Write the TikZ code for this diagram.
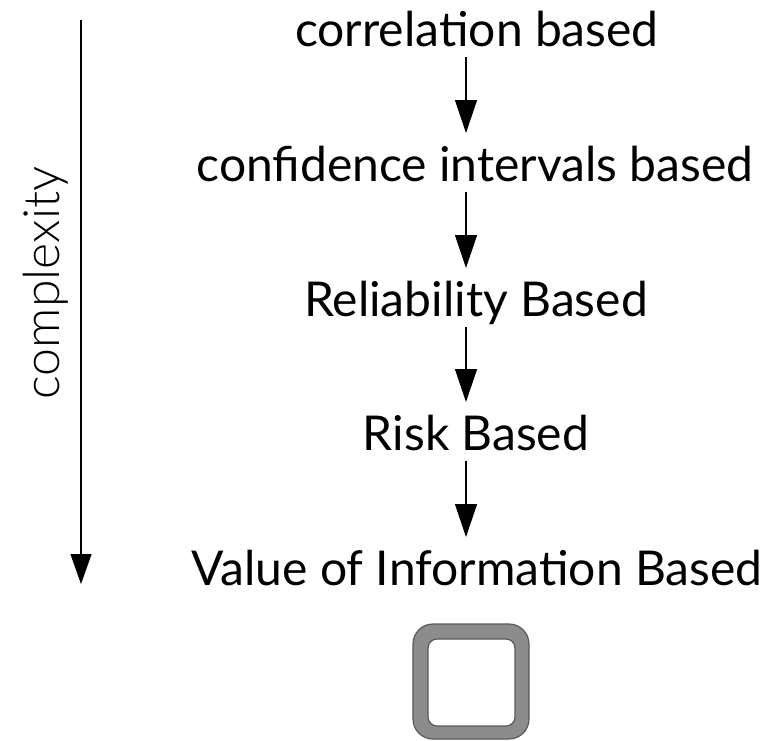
\documentclass[tikz,border=0pt]{standalone}
\usepackage{fontspec}
\setmainfont{Lato}
\newfontfamily\latolight{Lato Light}
\usetikzlibrary{arrows.meta,calc}
\tikzset{
  lbl/.style={inner sep=0pt, anchor=base, font=\fontsize{48}{54}\selectfont},
  arr/.style={line width=1.3pt, -{Triangle[length=33pt,width=22pt]}},
}
\begin{document}
\begin{tikzpicture}[x=1pt,y=-1pt]
\useasboundingbox (0,0) rectangle (768,740);
\node[lbl] (n1) at (477,46) {correlation based};
\node[lbl] (n2) at (475,181) {confidence intervals based};
\node[lbl] (n3) at (476,316) {Reliability Based};
\node[lbl] (n4) at (476,450) {Risk Based};
\node[lbl] (n5) at (477,585) {Value of Information Based};
\foreach \a/\b in {n1/n2,n2/n3,n3/n4,n4/n5}{
  \draw[arr] ($(\a.base -| 466,0)+(0,11)$) -- ($(\b.base -| 466,0)+(0,-48)$);
}
\coordinate (ctop) at (81,20);
\coordinate (cbot) at (81,584);
\draw[line width=1.1pt, -{Triangle[length=30pt,width=21pt]}] (ctop) -- (cbot);
\node[rotate=90, inner sep=0pt, font=\latolight\fontsize{50}{56}\selectfont] (cx) at (46,283) {complexity};
\filldraw[fill=black!45, draw=black!65, line width=1.2pt, even odd rule, rounded corners=20pt]
  (413,624) rectangle (529,739)
  [rounded corners=9pt] (428,639) rectangle (515,726);
\end{tikzpicture}
\end{document}
